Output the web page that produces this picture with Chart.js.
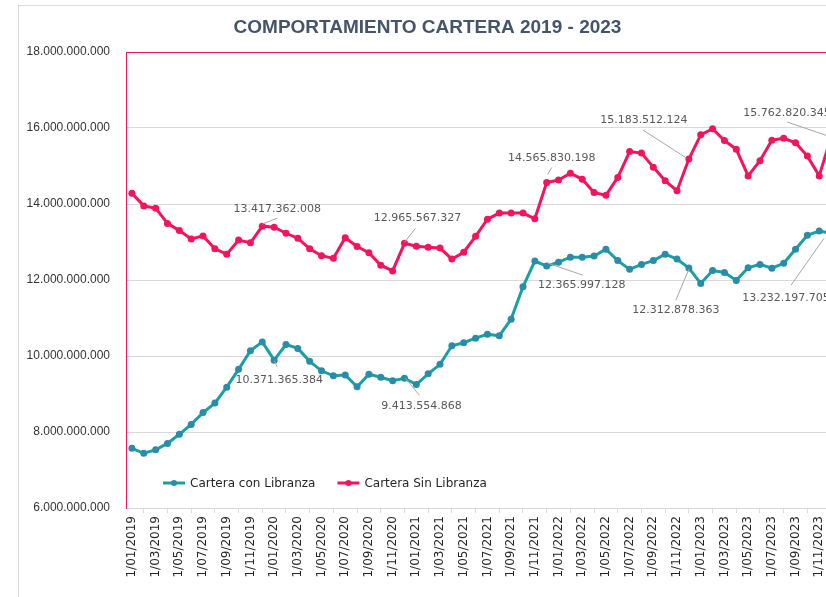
<!DOCTYPE html>
<html>
<head>
<meta charset="utf-8">
<script src="https://cdn.jsdelivr.net/npm/chart.js@4.4.1/dist/chart.umd.min.js"></script>
<style>
    html, body { margin: 0; padding: 0; background: #fff; overflow: hidden; }
    .frame {
        position: absolute; left: 18px; top: 5px; width: 860px; height: 600px;
        border-left: 1px solid #d9d9d9; border-top: 1px solid #d9d9d9;
    }
    #chart { position: absolute; left: 0; top: 0; }
</style>
</head>
<body>
<div class="frame">
    <canvas id="chart" width="845" height="591"></canvas>
</div>
<script>
// categories (first day of each month)
const meses = [
    '1/01/2019','1/02/2019','1/03/2019','1/04/2019','1/05/2019','1/06/2019','1/07/2019','1/08/2019','1/09/2019','1/10/2019','1/11/2019','1/12/2019',
    '1/01/2020','1/02/2020','1/03/2020','1/04/2020','1/05/2020','1/06/2020','1/07/2020','1/08/2020','1/09/2020','1/10/2020','1/11/2020','1/12/2020',
    '1/01/2021','1/02/2021','1/03/2021','1/04/2021','1/05/2021','1/06/2021','1/07/2021','1/08/2021','1/09/2021','1/10/2021','1/11/2021','1/12/2021',
    '1/01/2022','1/02/2022','1/03/2022','1/04/2022','1/05/2022','1/06/2022','1/07/2022','1/08/2022','1/09/2022','1/10/2022','1/11/2022','1/12/2022',
    '1/01/2023','1/02/2023','1/03/2023','1/04/2023','1/05/2023','1/06/2023','1/07/2023','1/08/2023','1/09/2023','1/10/2023','1/11/2023','1/12/2023'
];

// series values
const conLibranza = [
    7570000000, 7440000000, 7530000000, 7700000000, 7940000000, 8200000000, 8510000000, 8760000000, 9180000000, 9650000000, 10140000000, 10371365384,
    9890000000, 10300000000, 10200000000, 9860000000, 9610000000, 9480000000, 9500000000, 9190000000, 9520000000, 9440000000, 9350000000, 9413554868,
    9250000000, 9530000000, 9780000000, 10270000000, 10350000000, 10470000000, 10570000000, 10530000000, 10970000000, 11820000000, 12500000000, 12365997128,
    12470000000, 12600000000, 12600000000, 12630000000, 12810000000, 12510000000, 12280000000, 12410000000, 12510000000, 12680000000, 12550000000, 12312878363,
    11910000000, 12250000000, 12200000000, 11990000000, 12320000000, 12410000000, 12310000000, 12440000000, 12810000000, 13180000000, 13290000000, 13232197705
];
const sinLibranza = [
    14280000000, 13950000000, 13890000000, 13490000000, 13300000000, 13080000000, 13160000000, 12820000000, 12680000000, 13050000000, 12980000000, 13417362008,
    13390000000, 13230000000, 13100000000, 12820000000, 12640000000, 12570000000, 13110000000, 12880000000, 12720000000, 12390000000, 12240000000, 12965567327,
    12890000000, 12860000000, 12840000000, 12550000000, 12730000000, 13150000000, 13600000000, 13760000000, 13760000000, 13760000000, 13610000000, 14565830198,
    14630000000, 14810000000, 14650000000, 14300000000, 14230000000, 14700000000, 15380000000, 15340000000, 14970000000, 14610000000, 14350000000, 15183512124,
    15820000000, 15980000000, 15670000000, 15440000000, 14740000000, 15140000000, 15680000000, 15730000000, 15610000000, 15260000000, 14740000000, 15762820345
];

// y axis
const yMin = 6000000000;
const yMax = 18000000000;
const yStep = 2000000000;

const titulo = 'COMPORTAMIENTO CARTERA 2019 - 2023';
const nombres = ['Cartera con Libranza', 'Cartera Sin Libranza'];

const teal = '#19a0a0';
const tealPoint = '#2a8caa';
const pink = '#f2155c';

// which points get a value label, and where the label sits (offsets from the point)
const etiquetas = [
    { ds: 1, i: 11, from: [0, -2], to: [15, -8], text: [15, -17] },
    { ds: 1, i: 23, from: [0, -1], to: [11, -15], text: [13, -25] },
    { ds: 1, i: 35, from: [1, -8], to: [5, -15], text: [5, -24] },
    { ds: 1, i: 47, from: [-4, -2], to: [-46, -29], text: [-45, -39] },
    { ds: 1, i: 59, from: [-3, -1], to: [-44, -15], text: [-44, -24] },
    { ds: 0, i: 11, from: [12, 19], to: [15, 25], text: [17, 38] },
    { ds: 0, i: 23, from: [1, 0], to: [15, 17], text: [17, 28] },
    { ds: 0, i: 35, from: [1, -3], to: [36, 9], text: [35, 19] },
    { ds: 0, i: 47, from: [0, 1], to: [-13, 32], text: [-13, 42] },
    { ds: 0, i: 59, from: [-7, 5], to: [-40, 52], text: [-45, 65] }
];

//format with dots as thousand separator
function puntos(n) {
    return Math.round(n).toString().replace(/\B(?=(\d{3})+(?!\d))/g, '.');
}

// title drawn over a fixed centre
const tituloPlugin = {
    id: 'tituloPlugin',
    afterDraw(chart) {
        const ctx = chart.ctx;
        ctx.save();
        ctx.font = 'bold 19px "Liberation Sans", Arial, sans-serif';
        ctx.fillStyle = '#44546a';
        ctx.textAlign = 'center';
        ctx.textBaseline = 'alphabetic';
        ctx.fillText(titulo, 408.5, 26.5);
        ctx.restore();
    }
};

// data labels with leader lines
const etiquetasPlugin = {
    id: 'etiquetasPlugin',
    afterDatasetsDraw(chart) {
        const ctx = chart.ctx;
        ctx.save();
        ctx.font = '11px "DejaVu Sans", sans-serif';
        ctx.fillStyle = '#595959';
        ctx.strokeStyle = '#a6a6a6';
        ctx.lineWidth = 1;
        ctx.textAlign = 'center';
        ctx.textBaseline = 'middle';
        etiquetas.forEach(e => {
            const pt = chart.getDatasetMeta(e.ds).data[e.i];
            const v = chart.data.datasets[e.ds].data[e.i];
            ctx.beginPath();
            ctx.moveTo(pt.x + e.from[0], pt.y + e.from[1]);
            ctx.lineTo(pt.x + e.to[0], pt.y + e.to[1]);
            ctx.stroke();
            ctx.fillText(puntos(v), pt.x + e.text[0], pt.y + e.text[1]);
        });
        ctx.restore();
    }
};

// legend inside the plot area, bottom left
const leyendaPlugin = {
    id: 'leyendaPlugin',
    afterDraw(chart) {
        const ctx = chart.ctx;
        const area = chart.chartArea;
        let x = area.left + 37;
        const y = area.bottom - 25;
        ctx.save();
        ctx.font = '12px "DejaVu Sans", sans-serif';
        ctx.textBaseline = 'middle';
        ctx.textAlign = 'left';
        chart.data.datasets.forEach(ds => {
            ctx.strokeStyle = ds.borderColor;
            ctx.lineWidth = 3;
            ctx.beginPath();
            ctx.moveTo(x, y);
            ctx.lineTo(x + 22, y);
            ctx.stroke();
            ctx.fillStyle = ds.pointBackgroundColor;
            ctx.beginPath();
            ctx.arc(x + 11, y, 3, 0, Math.PI * 2);
            ctx.fill();
            ctx.fillStyle = '#262626';
            ctx.fillText(ds.label, x + 27, y + 1);
            x += 27 + ctx.measureText(ds.label).width + 22;
        });
        ctx.restore();
    }
};

const ctx = document.getElementById('chart').getContext('2d');
const chart = new Chart(ctx, {
    type: 'line',
    data: {
        labels: meses,
        datasets: [
            {
                label: nombres[0],
                data: conLibranza,
                borderColor: teal,
                backgroundColor: tealPoint,
                pointBackgroundColor: tealPoint,
                pointBorderColor: tealPoint,
                borderWidth: 3,
                pointRadius: 3.5,
                pointBorderWidth: 0,
                tension: 0
            },
            {
                label: nombres[1],
                data: sinLibranza,
                borderColor: pink,
                backgroundColor: pink,
                pointBackgroundColor: pink,
                pointBorderColor: pink,
                borderWidth: 3,
                pointRadius: 3.5,
                pointBorderWidth: 0,
                tension: 0
            }
        ]
    },
    options: {
        responsive: false,
        animation: false,
        layout: { padding: { top: 46, right: 27, bottom: 0, left: 0 } },
        plugins: {
            legend: { display: false },
            title: { display: false },
            tooltip: { enabled: false }
        },
        scales: {
            x: {
                offset: true,
                grid: {
                    offset: true,
                    drawOnChartArea: false,
                    drawTicks: true,
                    tickLength: 5,
                    color: '#d9d9d9'
                },
                border: { color: '#d9d9d9' },
                ticks: {
                    autoSkip: false,
                    minRotation: 90,
                    maxRotation: 90,
                    padding: 3,
                    color: '#262626',
                    font: { family: '"DejaVu Sans", sans-serif', size: 12 },
                    callback: function (val, i) {
                        return i % 2 === 0 ? this.getLabelForValue(val) : null;
                    }
                },
                afterFit: s => { s.height = 89; }
            },
            y: {
                min: yMin,
                max: yMax,
                grid: {
                    drawTicks: false,
                    color: c => (c.tick && c.tick.value === yMax ? pink : '#d9d9d9')
                },
                border: { color: pink },
                ticks: {
                    stepSize: yStep,
                    padding: 16,
                    color: '#333333',
                    font: { family: '"Liberation Sans", Arial, sans-serif', size: 12 },
                    callback: v => puntos(v)
                },
                afterFit: s => { s.width = 107; }
            }
        }
    },
    plugins: [tituloPlugin, etiquetasPlugin, leyendaPlugin]
});
</script>
</body>
</html>
